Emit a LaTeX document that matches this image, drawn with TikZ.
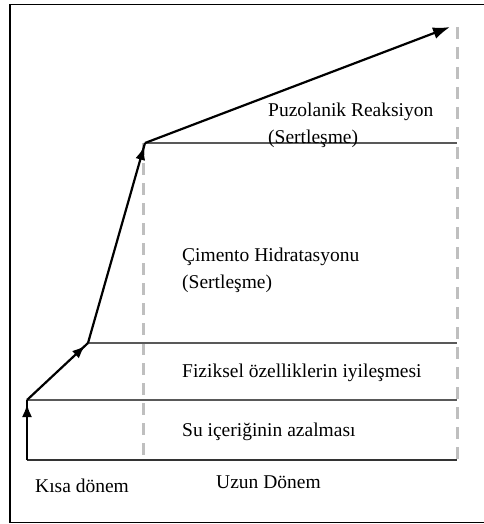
\documentclass[tikz,border=0pt]{standalone}
\usepackage{fontspec}
\setmainfont{Liberation Serif}
\usetikzlibrary{arrows.meta,decorations.markings}

\tikzset{
  stage/.style={draw=black, line width=2.2pt},
  endarrow/.style={stage, postaction={decorate}, decoration={markings,
      mark=at position -4pt with {\arrow{Latex[length=13pt,width=10pt]}}}},
  level/.style={draw=black!65, line width=2pt},
  divider/.style={draw=black!25, line width=3pt, dash pattern=on 12pt off 8pt},
  lbl/.style={font=\fontsize{19.5}{27}\selectfont, anchor=west, inner sep=0pt, align=left}
}

\begin{document}
\begin{tikzpicture}[x=1pt, y=-1pt]
  \useasboundingbox (0,0) rectangle (483,524);
  % frame
  \draw[line width=1.8pt] (490,4.5) -- (10,4.5) -- (10,522.5) -- (490,522.5);

  % corner points
  \coordinate (o) at (27,460);
  \coordinate (water) at (27,400);
  \coordinate (phys) at (88,343);
  \coordinate (hyd) at (145,143);
  \coordinate (puz) at (450,27);

  % dashed dividers
  \draw[divider] (143,143) -- (143,460);
  \draw[divider] (457,27) -- (457,460);

  % levels
  \draw[level] (water) -- (457,400);
  \draw[level] (phys) -- (457,343);
  \draw[level] (hyd) -- (457,143);
  \draw[stage, draw=black!80] (o) -- (457,460);

  % growth path
  \draw[endarrow] (o) -- (water);
  \draw[endarrow] (water) -- (phys);
  \draw[endarrow] (phys) -- (hyd);
  \draw[stage, -{Latex[length=17pt,width=12pt]}] (hyd) -- (puz);

  % labels
  \node[lbl] (puzlbl) at (268,125) {Puzolanik Reaksiyon\\(Sertleşme)};
  \node[lbl] (hydlbl) at (182,270) {Çimento Hidratasyonu\\(Sertleşme)};
  \node[lbl] (physlbl) at (182,373) {Fiziksel özelliklerin iyileşmesi};
  \node[lbl] (waterlbl) at (182,432) {Su içeriğinin azalması};
  \node[lbl] (short) at (35,486) {Kısa dönem};
  \node[lbl] (long) at (216,482) {Uzun Dönem};
\end{tikzpicture}
\end{document}
